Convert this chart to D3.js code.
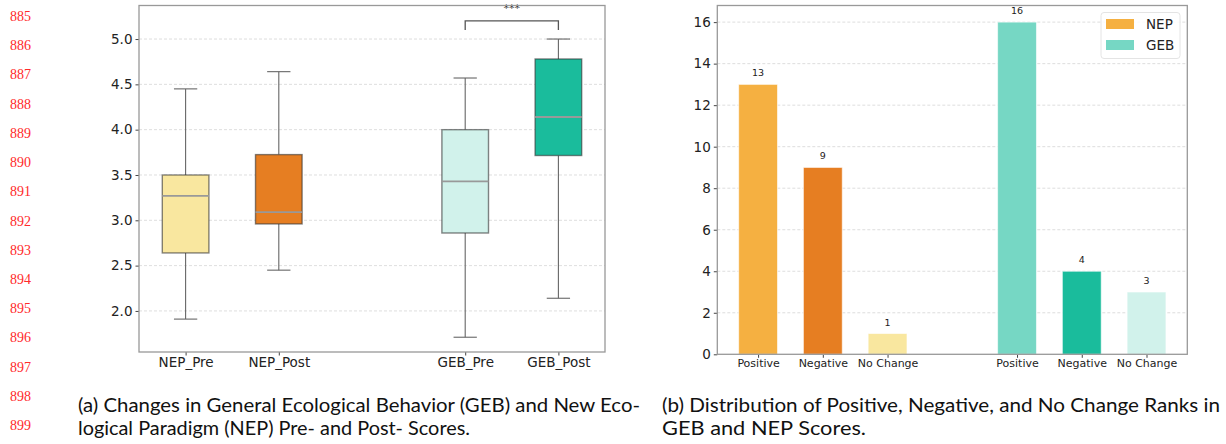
<!DOCTYPE html>
<html>
<head>
<meta charset="utf-8">
<script src="https://cdn.jsdelivr.net/npm/d3@7"></script>
<style>
  html, body { margin: 0; padding: 0; background: #fff; }
  svg { display: block; }
</style>
</head>
<body>
<svg id="chart" width="1226" height="444"></svg>
<script>
// ---------- Data ----------
const boxLabels = ["NEP_Pre", "NEP_Post", "GEB_Pre", "GEB_Post"];
const boxPositions = [1, 2, 4, 5];
const whiskerLow = [1.91, 2.45, 1.71, 2.14];
const q1Values = [2.64, 2.96, 2.86, 3.715];
const medianValues = [3.27, 3.09, 3.43, 4.14];
const q3Values = [3.5, 3.725, 4.0, 4.78];
const whiskerHigh = [4.45, 4.64, 4.57, 5.0];
const boxColors = ["#f9e79f", "#e67e22", "#d1f2eb", "#1abc9c"];
const boxYTicks = [2.0, 2.5, 3.0, 3.5, 4.0, 4.5, 5.0];

const rankCategories = ["Positive", "Negative", "No Change"];
const nepCounts = [13, 9, 1];
const gebCounts = [16, 4, 3];
const nepPositions = [0, 1, 2];
const gebPositions = [4, 5, 6];
const nepColors = ["#f5b041", "#e67e22", "#f9e79f"];
const gebColors = ["#76d7c4", "#1abc9c", "#d1f2eb"];
const barYTicks = [0, 2, 4, 6, 8, 10, 12, 14, 16];
const legendNames = ["NEP", "GEB"];
const legendColors = ["#f5b041", "#76d7c4"];

const lineNumbers = d3.range(885, 900);
const captionA = ["(a) Changes in General Ecological Behavior (GEB) and New Eco-",
                  "logical Paradigm (NEP) Pre- and Post- Scores."];
const captionB = ["(b) Distribution of Positive, Negative, and No Change Ranks in",
                  "GEB and NEP Scores."];

const svg = d3.select("#chart");
const axisFont = "DejaVu Sans, sans-serif";

// ---------- Line numbers ----------
const lnY = d3.scaleLinear().domain([885, 899]).range([21, 430]);
svg.append("g").selectAll("text").data(lineNumbers).join("text")
  .attr("x", 10).attr("y", d => lnY(d))
  .attr("font-family", "Liberation Serif, serif").attr("font-size", 14)
  .attr("fill", "#ff2a2a").text(d => d);

// ---------- Left: box plot ----------
const L = { left: 139, right: 605, top: 5.5, bottom: 352 };
const xB = d3.scaleLinear().domain([0.5, 5.5]).range([L.left, L.right]);
const yB = d3.scaleLinear().domain([1.547, 5.37]).range([L.bottom, L.top]);
const gL = svg.append("g");

// grid
gL.append("g").selectAll("line").data(boxYTicks).join("line")
  .attr("x1", L.left).attr("x2", L.right)
  .attr("y1", d => yB(d)).attr("y2", d => yB(d))
  .attr("stroke", "#d6d6d6").attr("stroke-width", 0.8).attr("stroke-dasharray", "3,2");

// y axis
const yAxisL = gL.append("g").attr("transform", `translate(${L.left},0)`)
  .call(d3.axisLeft(yB).tickValues(boxYTicks).tickFormat(d3.format(".1f")).tickSize(3.5).tickPadding(3));
yAxisL.select(".domain").remove();
yAxisL.selectAll("text").attr("font-family", axisFont).attr("font-size", 13.5).attr("fill", "#222");
yAxisL.selectAll("line").attr("stroke", "#444");

// x axis
const xAxisL = gL.append("g").attr("transform", `translate(0,${L.bottom})`)
  .call(d3.axisBottom(xB).tickValues(boxPositions).tickFormat((d, i) => boxLabels[i]).tickSize(3.5).tickPadding(2));
xAxisL.select(".domain").remove();
xAxisL.selectAll("text").attr("font-family", axisFont).attr("font-size", 13.5).attr("fill", "#222");
xAxisL.selectAll("line").attr("stroke", "#444");

// boxes
const boxW = 0.5, capW = 0.25;
boxLabels.forEach((lab, i) => {
  const cx = xB(boxPositions[i]);
  const g = gL.append("g");
  g.append("line").attr("x1", cx).attr("x2", cx).attr("y1", yB(q3Values[i])).attr("y2", yB(whiskerHigh[i]))
    .attr("stroke", "#666").attr("stroke-width", 1.1);
  g.append("line").attr("x1", cx).attr("x2", cx).attr("y1", yB(q1Values[i])).attr("y2", yB(whiskerLow[i]))
    .attr("stroke", "#666").attr("stroke-width", 1.1);
  [whiskerHigh[i], whiskerLow[i]].forEach(v => {
    g.append("line").attr("x1", xB(boxPositions[i] - capW / 2)).attr("x2", xB(boxPositions[i] + capW / 2))
      .attr("y1", yB(v)).attr("y2", yB(v)).attr("stroke", "#666").attr("stroke-width", 1.1);
  });
  g.append("rect")
    .attr("x", xB(boxPositions[i] - boxW / 2)).attr("width", xB(boxW) - xB(0))
    .attr("y", yB(q3Values[i])).attr("height", yB(q1Values[i]) - yB(q3Values[i]))
    .attr("fill", boxColors[i]).attr("stroke", "#333").attr("stroke-opacity", 0.6).attr("stroke-width", 1.4);
  g.append("line").attr("x1", xB(boxPositions[i] - boxW / 2)).attr("x2", xB(boxPositions[i] + boxW / 2))
    .attr("y1", yB(medianValues[i])).attr("y2", yB(medianValues[i]))
    .attr("stroke", "#999").attr("stroke-width", 1.8);
});

// significance bracket
const bracketTop = 5.2, bracketEnd = 5.1;
gL.append("path")
  .attr("d", `M${xB(4)},${yB(bracketEnd)}V${yB(bracketTop)}H${xB(5)}V${yB(bracketEnd)}`)
  .attr("fill", "none").attr("stroke", "#555").attr("stroke-width", 1.3);
gL.append("text").attr("x", xB(4.5)).attr("y", yB(5.3)).attr("text-anchor", "middle")
  .attr("font-family", axisFont).attr("font-size", 11).attr("fill", "#333").text("***");

// spines
gL.append("rect").attr("x", L.left).attr("y", L.top).attr("width", L.right - L.left).attr("height", L.bottom - L.top)
  .attr("fill", "none").attr("stroke", "#999").attr("stroke-width", 1.3);

// ---------- Right: bar chart ----------
const R = { left: 717.3, right: 1187.3, top: 5.5, bottom: 354.3 };
const xR = d3.scaleLinear().domain([-0.63, 6.63]).range([R.left, R.right]);
const yR = d3.scaleLinear().domain([0, 16.8]).range([R.bottom, R.top]);
const gR = svg.append("g");

gR.append("g").selectAll("line").data(barYTicks.filter(d => d > 0)).join("line")
  .attr("x1", R.left).attr("x2", R.right)
  .attr("y1", d => yR(d)).attr("y2", d => yR(d))
  .attr("stroke", "#d6d6d6").attr("stroke-width", 0.8).attr("stroke-dasharray", "3,2");

const yAxisR = gR.append("g").attr("transform", `translate(${R.left},0)`)
  .call(d3.axisLeft(yR).tickValues(barYTicks).tickFormat(d3.format("d")).tickSize(3.5).tickPadding(3));
yAxisR.select(".domain").remove();
yAxisR.selectAll("text").attr("font-family", axisFont).attr("font-size", 13.5).attr("fill", "#222");
yAxisR.selectAll("line").attr("stroke", "#444");

const allPositions = nepPositions.concat(gebPositions);
const allLabels = rankCategories.concat(rankCategories);
const xAxisR = gR.append("g").attr("transform", `translate(0,${R.bottom})`)
  .call(d3.axisBottom(xR).tickValues(allPositions).tickFormat((d, i) => allLabels[i]).tickSize(3.5).tickPadding(1.5));
xAxisR.select(".domain").remove();
xAxisR.selectAll("text").attr("font-family", axisFont).attr("font-size", 11).attr("fill", "#222");
xAxisR.selectAll("line").attr("stroke", "#444");

const barW = 0.6;
const barData = nepCounts.map((v, i) => ({ pos: nepPositions[i], v, c: nepColors[i] }))
  .concat(gebCounts.map((v, i) => ({ pos: gebPositions[i], v, c: gebColors[i] })));
gR.append("g").selectAll("rect").data(barData).join("rect")
  .attr("x", d => xR(d.pos - barW / 2)).attr("width", xR(barW) - xR(0))
  .attr("y", d => yR(d.v)).attr("height", d => yR(0) - yR(d.v))
  .attr("fill", d => d.c).attr("stroke", "#fff").attr("stroke-opacity", 0.6).attr("stroke-width", 1);
gR.append("g").selectAll("text").data(barData).join("text")
  .attr("x", d => xR(d.pos)).attr("y", d => yR(d.v) - 8).attr("text-anchor", "middle")
  .attr("font-family", axisFont).attr("font-size", 9.5).attr("fill", "#222").text(d => d.v);

gR.append("rect").attr("x", R.left).attr("y", R.top).attr("width", R.right - R.left).attr("height", R.bottom - R.top)
  .attr("fill", "none").attr("stroke", "#999").attr("stroke-width", 1.3);

// legend
const lg = gR.append("g").attr("transform", "translate(1101,12.5)");
lg.append("rect").attr("width", 79).attr("height", 46).attr("rx", 3)
  .attr("fill", "#fff").attr("fill-opacity", 0.85).attr("stroke", "#ddd").attr("stroke-width", 0.8);
legendNames.forEach((n, i) => {
  lg.append("rect").attr("x", 5).attr("y", 6.5 + i * 21).attr("width", 28).attr("height", 10)
    .attr("fill", legendColors[i]);
  lg.append("text").attr("x", 45).attr("y", 16.5 + i * 21)
    .attr("font-family", axisFont).attr("font-size", 13.5).attr("fill", "#222").text(n);
});

// ---------- Captions ----------
const capFont = "Lato, 'Open Sans', sans-serif";
const capA = [[78, 412, 562], [78, 435, 392]];
const capB = [[662, 412, 558], [662, 435, 204]];
[[captionA, capA], [captionB, capB]].forEach(([lines, pos]) => {
  lines.forEach((t, i) => {
    svg.append("text").attr("x", pos[i][0]).attr("y", pos[i][1])
      .attr("font-family", capFont).attr("font-size", 18.5).attr("fill", "#111")
      .attr("textLength", pos[i][2]).attr("lengthAdjust", "spacingAndGlyphs").text(t);
  });
});
</script>
</body>
</html>
